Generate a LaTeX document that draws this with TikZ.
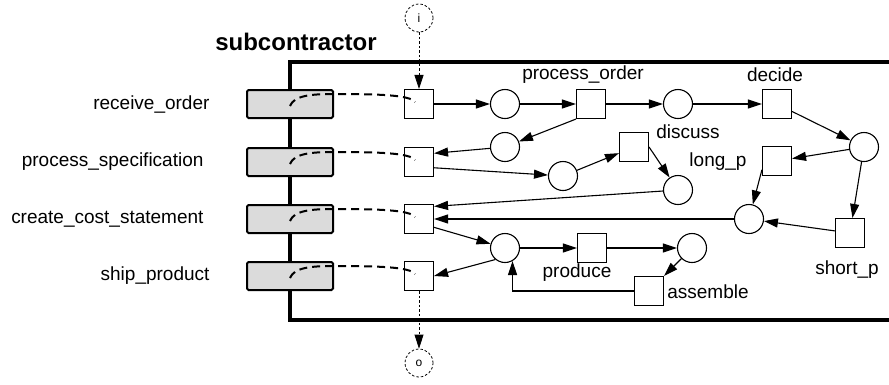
\documentclass[tikz,border=0pt]{standalone}
\usepackage{fontspec}
\setmainfont{Liberation Sans}
\usetikzlibrary{positioning, arrows.meta, calc}
\tikzset{>={Triangle[length=14pt,width=9pt]}}

\begin{document}
\begin{tikzpicture}[x=1pt,y=-1pt,every node/.style={font=\fontsize{19}{22}\selectfont},
    place/.style={draw,circle,minimum size=29pt,inner sep=0pt,line width=1.1pt},
    trans/.style={draw,rectangle,minimum size=29pt,inner sep=0pt,line width=1.1pt},
    task/.style={draw,fill=black!14,rounded corners=1.5pt,minimum width=86pt,
        minimum height=28pt,inner sep=0pt,line width=2pt},
    port/.style={draw,circle,dash pattern=on 2.5pt off 2pt,minimum size=28pt,inner sep=0pt,
        line width=.8pt,font=\fontsize{12}{14}\selectfont},
    arc/.style={->,line width=1.1pt},
    link/.style={line width=2pt,dash pattern=on 8pt off 5pt}
    ]
    \useasboundingbox (0,0) rectangle (889,384);

    %frame of the subcontractor
    \draw[line width=3.5pt] (889,62) -| (290,320) -- (889,320);
    \node[font=\fontsize{24}{28}\selectfont\bfseries] (title) at (296,42) {subcontractor};

    %tasks on the left, with the transition each of them is linked to
    \foreach \n/\y/\x/\txt in {rcv/104/213/receive\_order, spec/162/207/process\_specification,
        cost/219/207/create\_cost\_statement, ship/276/213/ship\_product}{
        \node[anchor=east] (l\n) at (\x,\y) {\txt};
        \node[task] (t\n) at (290,\y) {};
        \node[trans] (s\n) at (419,\y) {};
        \draw[link] ($(t\n.center)+(0,2)$) .. controls +(4,-10) and +(-25,0) .. ($(t\n.east)+(0,-10)$)
            .. controls +(45,0) and +(-5,-7) .. ($(s\n.center)+(-4,-2)$);
    }

    \node[port] (in) at (419,18) {i};
    \node[port] (out) at (419,363) {o};
    \draw[->,line width=.8pt,dash pattern=on 2.5pt off 2pt] (in) -- (srcv);
    \draw[->,line width=.8pt,dash pattern=on 2.5pt off 2pt] (sship) -- (out);

    %places and transitions of the net
    \node[place] (p1) at (505,104) {};
    \node[trans] (po) at (591,104) {};
    \node[place] (p2) at (678,104) {};
    \node[trans] (dec) at (777,104) {};
    \node[place] (p3) at (864,147) {};
    \node[place] (p4) at (505,147) {};
    \node[place] (p5) at (563,176) {};
    \node[trans] (disc) at (634,147) {};
    \node[place] (p6) at (678,190) {};
    \node[trans] (lp) at (777,161) {};
    \node[place] (p7) at (749,219) {};
    \node[trans] (sp) at (850,233) {};
    \node[place] (p8) at (505,248) {};
    \node[trans] (prod) at (592,248) {};
    \node[place] (p9) at (692,248) {};
    \node[trans] (asm) at (649,291) {};

    \node (lpo) at (583,75) {process\_order};
    \node (ldec) at (775,75) {decide};
    \node (ldisc) at (688,132) {discuss};
    \node (llp) at (718,162) {long\_p};
    \node (lsp) at (847,270) {short\_p};
    \node (lprod) at (577,273) {produce};
    \node (lasm) at (708,292) {assemble};

    \draw[arc] (srcv) -- (p1);
    \draw[arc] (p1) -- (po);
    \draw[arc] (po) -- (p2);
    \draw[arc] (p2) -- (dec);
    \draw[arc] (dec) -- (p3);
    \draw[arc] (po.south west) -- (p4);
    \draw[arc] (p4) -- (sspec.30);
    \draw[arc] (sspec.-21) -- (p5);
    \draw[arc] (p5) -- (disc);
    \draw[arc] (disc.east) -- (p6);
    \draw[arc] (p6) -- (scost.40);
    \draw[arc] (p3) -- (lp);
    \draw[arc] (p3) -- (sp);
    \draw[arc] (lp.210) -- (p7);
    \draw[arc] (sp) -- (p7);
    \draw[arc] (p7) -- (scost);
    \draw[arc] (scost.-29) -- (p8);
    \draw[arc] (p8) -- (prod);
    \draw[arc] (prod) -- (p9);
    \draw[arc] (p9) -- (asm);
    \draw[arc] (asm.west) -| (p8.-60);
    \draw[arc] (p8.-130) -- (sship.east);
\end{tikzpicture}
\end{document}
